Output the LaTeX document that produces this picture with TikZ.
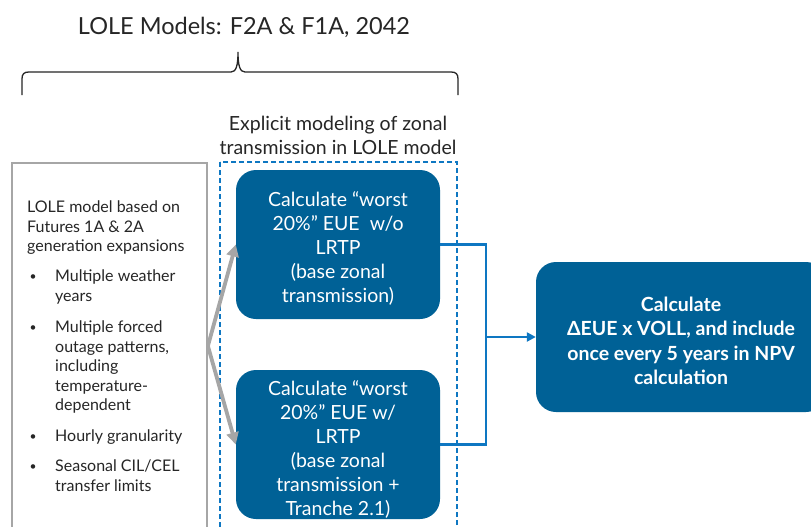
\documentclass[tikz,border=0pt]{standalone}
\usepackage{fontspec}
\setmainfont{Lato}
\usetikzlibrary{arrows.meta,positioning}

\definecolor{boxblue}{RGB}{0,97,150}
\definecolor{lineblue}{RGB}{14,119,194}
\definecolor{arrowgray}{RGB}{166,166,166}
\definecolor{textdark}{RGB}{38,38,38}

\tikzset{
  calcbox/.style={fill=boxblue, rounded corners=20pt, inner sep=0pt},
  calctext/.style={text=white, align=center, inner sep=0pt,
    font=\fontsize{19.5}{24}\selectfont},
  itemtext/.style={anchor=north west, align=left, inner sep=0pt, text=textdark,
    font=\fontsize{16}{19.5}\selectfont},
  dotmark/.style={inner sep=0pt, text=textdark, font=\fontsize{12}{12}\selectfont},
  bluelink/.style={draw=lineblue, line width=2.8pt},
  grayarrow/.style={draw=arrowgray, line width=3.8pt, -{Triangle[length=12pt,width=12pt]}},
}

\begin{document}
\begin{tikzpicture}[x=1pt, y=-1pt]
    \clip (0,0) rectangle (811,527);
    \fill[white] (0,0) rectangle (811,527);

    % ==================== Titel und Klammer ====================
    \node[text=textdark, font=\fontsize{23.5}{28}\selectfont] (title) at (244,27) {LOLE Models: F2A \& F1A, 2042};
    \draw[textdark, line width=1.3pt]
        (22,95) -- (22,79) .. controls (22,74) and (24,72) .. (29,72)
        -- (231,72) .. controls (236,72) and (238,66) .. (238,52)
        .. controls (238,66) and (240,72) .. (245,72)
        -- (451,72) .. controls (456,72) and (458,74) .. (458,79) -- (458,95);

    % ==================== linke Box: Modellbeschreibung ====================
    \node[draw=arrowgray, line width=1.8pt, minimum width=195pt, minimum height=366pt,
          inner sep=0pt] (lolebox) at (109.5,346) {};
    \node[itemtext] (basis) at (27,201) {LOLE model based on\\Futures 1A \& 2A\\generation expansions};
    \foreach \y/\name/\txt in {270/weather/{Multiple weather\\years},
                               321/outage/{Multiple forced\\outage patterns,\\including\\temperature-\\dependent},
                               430/hourly/{Hourly granularity},
                               460/cil/{Seasonal CIL/CEL\\transfer limits}}
    {
        \node[itemtext] (\name) at (55,\y) {\txt};
        \node[dotmark] at (33,\y+8) {•};
    }

    % ==================== mittlere Spalte: zonale Uebertragung ====================
    \draw[lineblue, line width=1.4pt, dash pattern=on 5pt off 3pt] (220,162) rectangle (457,545);
    \node[text=textdark, align=center, font=\fontsize{19.5}{24}\selectfont] (zonal) at (338,135)
        {Explicit modeling of zonal\\transmission in LOLE model};

    \node[calcbox, minimum width=204pt, minimum height=149pt] (woLRTP) at (338,244.5) {};
    \node[calctext] (woText) at ([yshift=-4pt]woLRTP.center)
        {Calculate “worst\\20\%” EUE \ w/o\\LRTP\\(base zonal\\transmission)};
    \node[calcbox, minimum width=204pt, minimum height=149pt] (wLRTP) at (338,444.5) {};
    \node[calctext] (wText) at ([yshift=-5pt]wLRTP.center)
        {Calculate “worst\\20\%” EUE w/\\LRTP\\(base zonal\\transmission +\\Tranche 2.1)};

    % ==================== rechte Box: NPV ====================
    \node[calcbox, minimum width=290pt, minimum height=150pt] (npv) at (681,337) {};
    \node[calctext, font=\bfseries\fontsize{19.5}{24.5}\selectfont] (npvText) at ([yshift=-4pt]npv.center)
        {Calculate\\ΔEUE x VOLL, and include\\once every 5 years in NPV\\calculation};

    % ==================== Verbindungen ====================
    \coordinate (fork) at (lolebox.east);
    \draw[grayarrow] (fork) -- (woLRTP.west);
    \draw[grayarrow] (fork) -- (wLRTP.west);

    \coordinate (joint) at (486,337);
    \draw[bluelink] (woLRTP.east) -- (woLRTP.east -| joint) -- (wLRTP.east -| joint) -- (wLRTP.east);
    \draw[bluelink, -{Triangle[length=9pt,width=9pt]}] (joint) -- (npv.west);

\end{tikzpicture}
\end{document}
